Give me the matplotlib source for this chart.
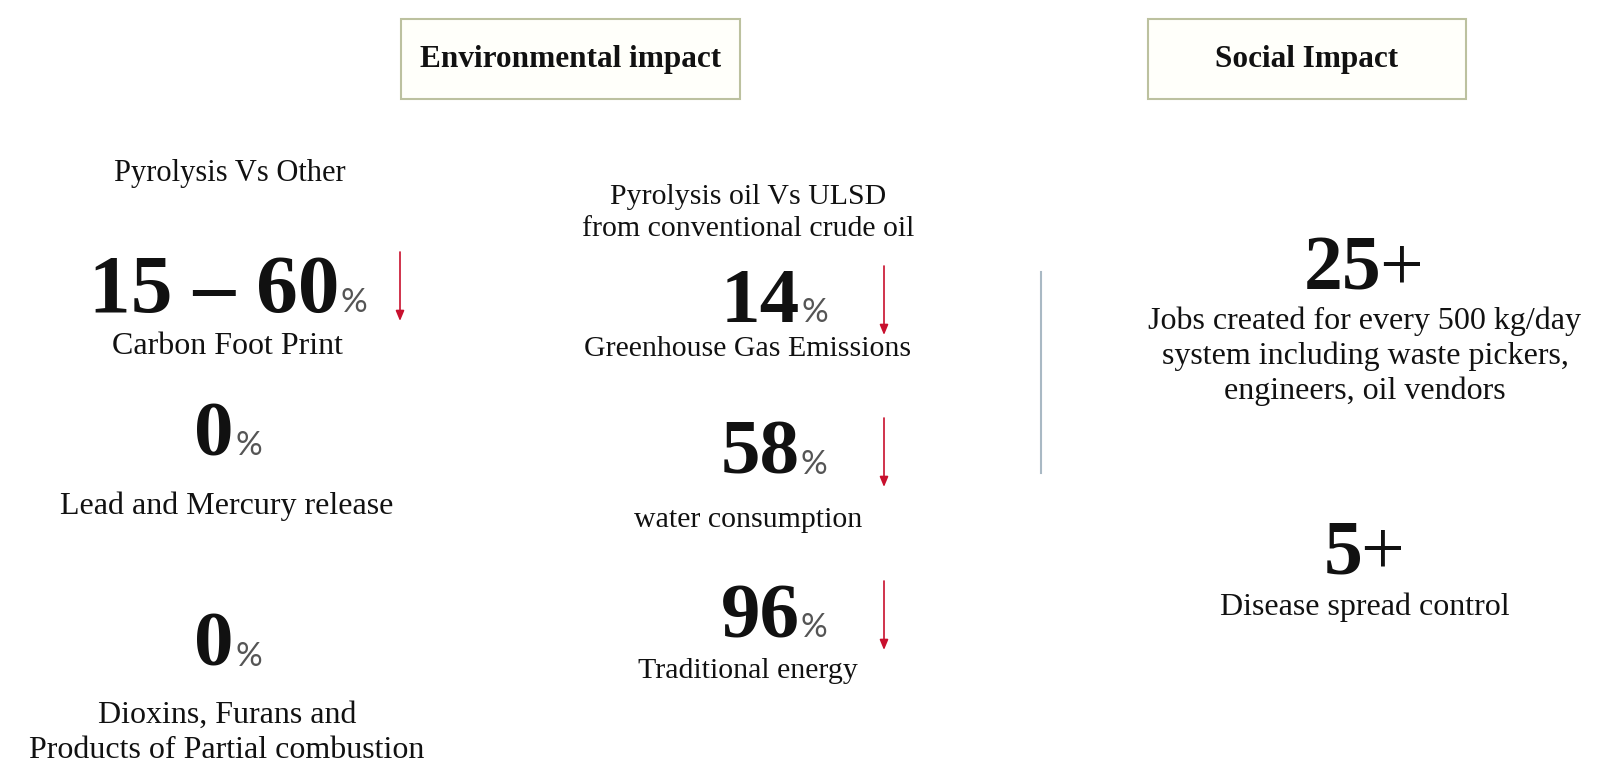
import matplotlib.pyplot as plt

# headers
headers = ["Environmental impact", "Social Impact"]
left_title = "Pyrolysis Vs Other"
mid_title = "Pyrolysis oil Vs ULSD\nfrom conventional crude oil"

# left column: value, unit, label
left_values = ["15 – 60", "0", "0"]
left_units = ["%", "%", "%"]
left_labels = ["Carbon Foot Print", "Lead and Mercury release",
               "Dioxins, Furans and\nProducts of Partial combustion"]
left_down = [True, False, False]

# middle column
mid_values = ["14", "58", "96"]
mid_units = ["%", "%", "%"]
mid_labels = ["Greenhouse Gas Emissions", "water consumption", "Traditional energy"]

# social column
soc_values = ["25", "5"]
soc_units = ["+", "+"]
soc_labels = ["Jobs created for every 500 kg/day\nsystem including waste pickers,\nengineers, oil vendors",
              "Disease spread control"]

SERIF = "Liberation Serif"
W, H = 1600, 768

fig = plt.figure(figsize=(16, 7.68), dpi=100)
ax = fig.add_axes([0, 0, 1, 1])
ax.set_xlim(0, W)
ax.set_ylim(H, 0)
ax.axis("off")


def header_box(x0, x1, text):
    ax.add_patch(plt.Rectangle((x0, 19), x1 - x0, 80, fc="#fffffa", ec="#bcc19f", lw=1.5))
    ax.text((x0 + x1) / 2, 59, text, family=SERIF, weight="bold", fontsize=22.5,
            ha="center", va="center", color="#111111")


def big_number(cx, base, value, unit, size=60, unit_style="pct"):
    t = ax.text(cx, base, value, family=SERIF, weight="bold", fontsize=size,
                ha="center", va="baseline", color="#111111")
    if unit_style == "pct":
        ax.annotate(unit, xy=(1, base), xycoords=(t, "data"), xytext=(1, 0),
                    textcoords="offset points", family="Lato", fontsize=24,
                    ha="left", va="baseline", color="#555555")
    else:
        ax.annotate(unit, xy=(1, base), xycoords=(t, "data"), xytext=(-2, 0),
                    textcoords="offset points",
                    family=SERIF, fontsize=size, ha="left", va="baseline",
                    color="#111111")
    return t


def down_arrow(x, y0, y1):
    ax.annotate("", xy=(x, y1), xytext=(x, y0),
                arrowprops=dict(arrowstyle="-|>,head_length=0.6,head_width=0.25",
                                color="#c8102e", lw=1.2, shrinkA=0, shrinkB=0))


def body(size):
    return dict(family=SERIF, fontsize=size, ha="center", va="center",
                color="#111111", linespacing=1.25)


# header boxes
header_box(401, 740, headers[0])
header_box(1148, 1466, headers[1])

# left column
lx = 230
ax.text(lx, 174, left_title, **body(22))
left_base = [312, 455, 666]
left_size = [60, 57, 57]
left_lab_y = [346, 506, 733]
for i, (v, u, lab) in enumerate(zip(left_values, left_units, left_labels)):
    big_number(lx - 16, left_base[i], v, u, size=left_size[i])
    ax.text(lx - 3, left_lab_y[i], lab, **body(23))
    if left_down[i]:
        down_arrow(400, left_base[i] - 60, left_base[i] + 9)

# middle column
mx = 748
ax.text(mx, 213, mid_title, **body(21.5))
mid_base = [322, 474, 637]
mid_lab_y = [349, 520, 671]
for i, (v, u, lab) in enumerate(zip(mid_values, mid_units, mid_labels)):
    big_number(mx + 12, mid_base[i], v, u, size=57)
    ax.text(mx, mid_lab_y[i], lab, **body(21.5))
    down_arrow(884, mid_base[i] - 56, mid_base[i] + 13)

# divider
ax.plot([1041, 1041], [272, 473], color="#a9b9c4", lw=1.5)

# social column
sx = 1365
soc_base = [289, 574]
soc_lab_y = [356, 607]
for i, (v, u, lab) in enumerate(zip(soc_values, soc_units, soc_labels)):
    big_number(sx - 22, soc_base[i], v, u, size=56, unit_style="plus")
    ax.text(sx, soc_lab_y[i], lab, **body(23))

fig.savefig("out.png", dpi=100, facecolor="white")
